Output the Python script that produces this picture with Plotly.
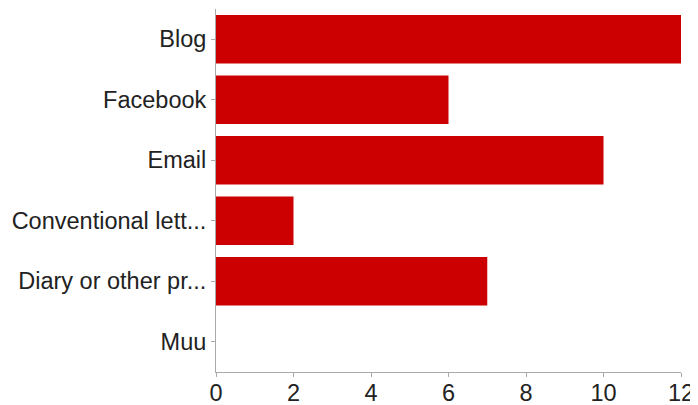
import plotly.graph_objects as go

categories = ["Blog", "Facebook", "Email", "Conventional lett...", "Diary or other pr...", "Muu"]
values = [12, 6, 10, 2, 7, 0]
x_ticks = [0, 2, 4, 6, 8, 10, 12]

fig = go.Figure(go.Bar(
    x=values, y=categories, orientation="h",
    marker=dict(color="#cc0000", line=dict(width=0)),
))
# page body has an 8px margin, so the figure is sized/offset to compensate
fig.update_layout(
    width=690, height=405,
    margin=dict(l=208, r=17, t=1, b=41),
    paper_bgcolor="white", plot_bgcolor="white",
    bargap=0.2,
    showlegend=False,
    font=dict(family="Liberation Sans, Arial, sans-serif", size=23.5, color="#222222"),
)
fig.update_xaxes(
    range=[0, 12], tickvals=x_ticks, showgrid=False, zeroline=False,
    showline=True, linecolor="#aaaaaa", linewidth=1, automargin=False,
    ticks="outside", ticklen=4, tickcolor="#aaaaaa", ticklabelstandoff=-4,
)
fig.update_yaxes(
    autorange="reversed", showgrid=False, zeroline=False,
    showline=True, linecolor="#aaaaaa", linewidth=1, automargin=False,
    ticks="outside", ticklen=4, tickcolor="#aaaaaa", ticklabelstandoff=0,
)
fig.write_html("out.html")
